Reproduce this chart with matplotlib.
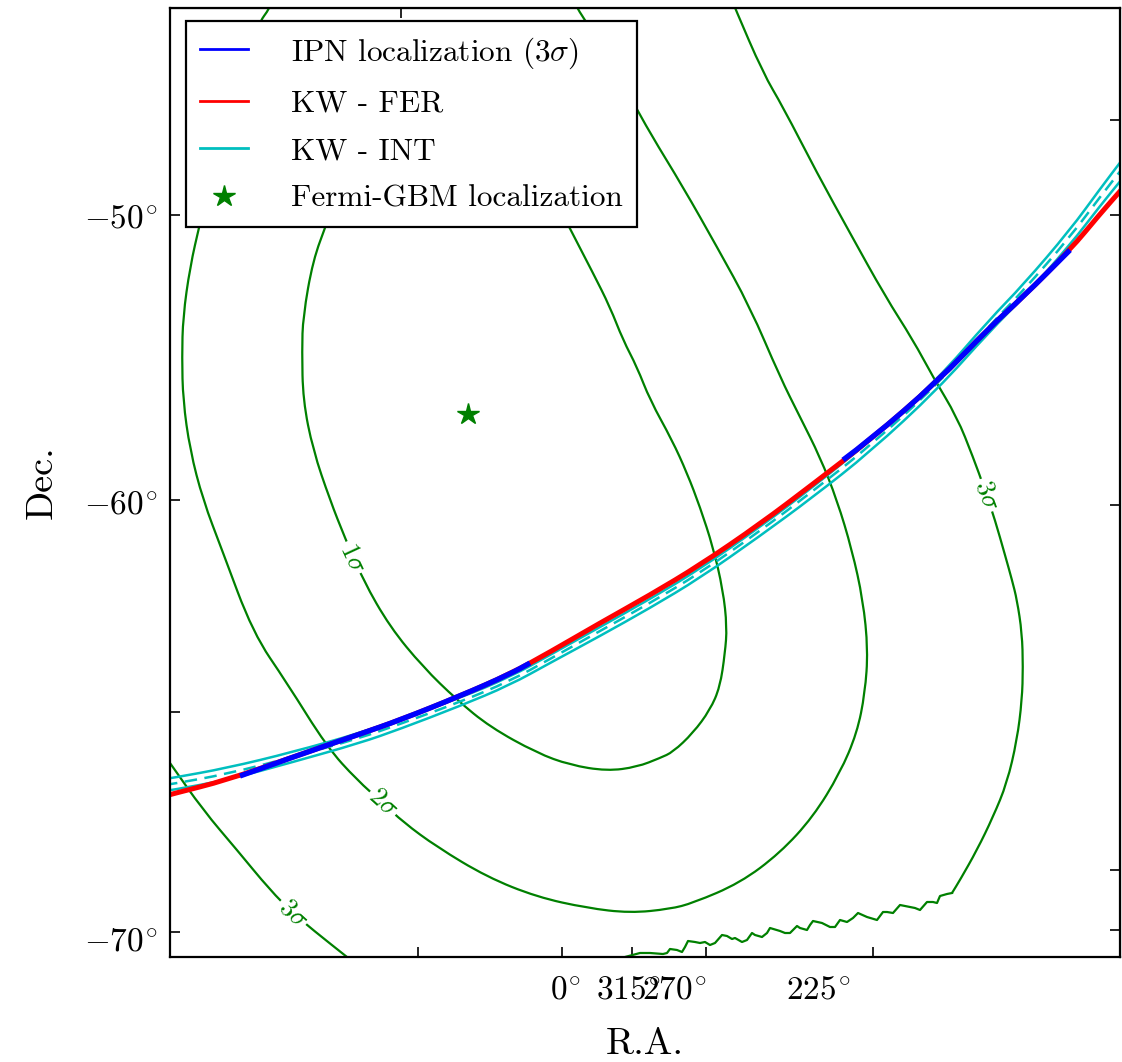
import matplotlib
matplotlib.use('Agg')
import matplotlib.pyplot as plt
from matplotlib.lines import Line2D
from matplotlib.path import Path
from matplotlib.patches import PathPatch

plt.rcParams['font.family'] = 'serif'
plt.rcParams['font.serif'] = ['cmr10']
plt.rcParams['mathtext.fontset'] = 'cm'
plt.rcParams['axes.formatter.use_mathtext'] = True

# data: points (x right, y down) ------------
# Fermi-GBM probability contours
sig1_x = [450, 385, 343, 327, 313, 303, 302, 303, 313, 330, 345, 363, 390, 423, 457, 490,
          537, 570, 607, 637, 660, 673, 693, 710, 720, 725, 727, 723, 713, 700, 687, 672,
          650, 637, 623, 610, 593, 567, 530, 490, 450]
sig1_y = [95, 125, 175, 223, 260, 317, 350, 400, 450, 500, 538, 580, 627, 667, 700, 727,
          753, 765, 771, 767, 758, 752, 733, 710, 687, 653, 627, 590, 547, 507, 473, 440,
          400, 367, 340, 307, 273, 223, 150, 105, 95]

sig2_x = [274, 270, 258, 235, 215, 200, 190, 183, 182, 183, 190, 203, 222, 253, 287, 327,
          357, 383, 403, 437, 487, 537, 587, 630, 670, 693, 740, 780, 813, 840, 857, 865,
          868, 863, 852, 837, 820, 800, 780, 750, 717, 683, 650, 632, 610, 587, 577, 573]
sig2_y = [-2, 8, 24, 90, 160, 223, 267, 317, 357, 400, 450, 500, 550, 633, 683, 747,
          780, 803, 822, 847, 877, 897, 908, 913, 909, 903, 883, 853, 817, 773, 733, 693,
          650, 600, 550, 500, 457, 417, 377, 307, 247, 187, 133, 100, 62, 23, 8, -2]

sig3l_x = [165, 170, 203, 237, 270, 293, 313, 347, 352]
sig3l_y = [756, 763, 810, 850, 890, 913, 930, 957, 961]

# outer right contour; from index 24 on it is the jagged stretch near the pole
sig3r_x = [731, 735, 763, 783, 817, 850, 885, 913, 933, 957, 973, 985, 995, 1005, 1012,
           1017, 1022, 1023, 1022, 1017, 1007, 993, 977, 960, 952,
           947, 940, 937, 933, 927, 920, 915, 900, 893, 887, 883, 877, 867, 858, 853,
           847, 840, 835, 830, 822, 813, 810, 807, 800, 797, 790, 785, 780, 770, 767,
           762, 755, 752, 747, 742, 735, 732, 727, 722, 715, 710, 705, 700, 695, 688,
           685, 682, 677, 670, 667, 663, 650, 640, 625, 618]
sig3r_y = [-2, 8, 73, 107, 173, 233, 296, 340, 377, 417, 457, 490, 520, 555, 580,
           600, 633, 667, 700, 740, 783, 817, 850, 880, 893,
           894, 896, 903, 902, 902, 910, 908, 905, 913, 912, 912, 920, 917, 913, 918,
           922, 920, 927, 927, 923, 921, 925, 930, 928, 926, 933, 933, 931, 928, 933,
           937, 935, 933, 940, 942, 938, 939, 936, 935, 943, 945, 942, 943, 942, 941,
           947, 952, 950, 949, 953, 954, 953, 953, 957, 960]

# contour labels: text, x, y, angle along the contour
clab_text = [r'$1\sigma$', r'$2\sigma$', r'$3\sigma$', r'$3\sigma$']
clab_x = [352, 383, 293, 987]
clab_y = [558, 803, 913, 495]
clab_rot = [-65, -42, -43, -70]

# IPN / KW annuli
arc_x = [165, 172, 227, 293, 360, 400, 460, 510, 550, 600, 650, 700, 760, 813, 870,
         937, 990, 1023, 1070, 1100, 1122]
fer_y = [796, 794, 780, 757, 734, 720, 696, 674, 652, 623, 595, 565, 524, 484, 440,
         382, 327, 297, 250, 214, 189]
int_hi_y = [779, 778, 768, 752, 733, 719, 698, 677, 655, 627, 599, 569, 527, 487, 441,
            380, 319, 285, 230, 189, 160]
int_mid_y = [785, 784, 774, 757, 738, 724, 702, 681, 659, 631, 603, 573, 531, 491, 446,
             385, 325, 291, 237, 197, 169]
int_lo_y = [791, 790, 780, 762, 743, 729, 706, 685, 663, 636, 608, 578, 536, 497, 452,
            390, 331, 298, 245, 206, 179]

ipn1_x = [240, 293, 360, 400, 460, 510, 530]
ipn1_y = [776, 757, 734, 720, 696, 674, 663]
ipn2_x = [843, 870, 937, 990, 1023, 1070]
ipn2_y = [460, 440, 382, 327, 297, 250]

gbm_x = [468]
gbm_y = [414]

# axis ticks
dec_pos = [217, 503, 940]
dec_lab = [r'$-50^{\!\circ}$', r'$-60^{\!\circ}$', r'$-70^{\!\circ}$']
ra_pos = [566, 628, 674, 818]
ra_lab = [r'$0^{\!\circ}$', r'$315^{\!\circ}$', r'$270^{\!\circ}$', r'$225^{\!\circ}$']
tick_bottom = [418, 562, 632, 706, 873]
tick_left = [215, 500, 712, 932]
tick_top = [401]
tick_right = [120, 215, 505, 870, 930]


def smooth_line(ax, xs, ys, **kw):
    # quadratic bezier path using the read points as control points
    pts = list(zip(xs, ys))
    verts = [pts[0]]
    codes = [Path.MOVETO]
    for i in range(1, len(pts) - 1):
        mid = ((pts[i][0] + pts[i + 1][0]) / 2, (pts[i][1] + pts[i + 1][1]) / 2)
        verts += [pts[i], mid]
        codes += [Path.CURVE3, Path.CURVE3]
    verts.append(pts[-1])
    codes.append(Path.LINETO)
    ax.add_patch(PathPatch(Path(verts, codes), fill=False, **kw))


# plot ---------------------------------------------------------------------
fig = plt.figure(figsize=(11.22, 10.62), dpi=100)
ax = fig.add_axes([170/1122, 1 - 957/1062, 950/1122, 949/1062])

green = (0, 0.5, 0)
for cx, cy in [(sig1_x, sig1_y), (sig2_x, sig2_y), (sig3l_x, sig3l_y),
               (sig3r_x[:25], sig3r_y[:25])]:
    smooth_line(ax, cx, cy, edgecolor=green, lw=1.6)
ax.plot(sig3r_x[24:], sig3r_y[24:], color=green, lw=1.6)

for t, x, y, r in zip(clab_text, clab_x, clab_y, clab_rot):
    ax.text(x, y, t, color=green, fontsize=19, rotation=r, ha='center', va='center',
            rotation_mode='anchor',
            bbox=dict(fc='white', ec='none', pad=1.5))

smooth_line(ax, arc_x, int_hi_y, edgecolor='c', lw=1.8)
smooth_line(ax, arc_x, int_lo_y, edgecolor='c', lw=1.8)
smooth_line(ax, arc_x, int_mid_y, edgecolor='c', lw=1.8, linestyle=(0, (5, 3)))
smooth_line(ax, arc_x, fer_y, edgecolor='r', lw=3.6)
smooth_line(ax, ipn1_x, ipn1_y, edgecolor='b', lw=3.8)
smooth_line(ax, ipn2_x, ipn2_y, edgecolor='b', lw=3.8)
ax.plot(gbm_x, gbm_y, marker='*', color=green, ls='', ms=16)

ax.set_xlim(170, 1120)
ax.set_ylim(957, 8)

for s in ax.spines.values():
    s.set_linewidth(1.6)

ax.set_xticks(ra_pos)
ax.set_xticklabels(ra_lab)
ax.set_yticks(dec_pos)
ax.set_yticklabels(dec_lab)
ax.set_xticks(tick_bottom, minor=True)
ax.set_yticks(tick_left, minor=True)
ax.tick_params(which='major', length=0, labelsize=24)
ax.tick_params(axis='x', which='major', pad=14)
ax.tick_params(axis='y', which='major', pad=9)
ax.tick_params(which='minor', direction='in', length=7, width=1.2)

top = ax.secondary_xaxis('top')
top.set_xticks(tick_top)
top.tick_params(direction='in', length=7, width=1.2, labeltop=False)
right = ax.secondary_yaxis('right')
right.set_yticks(tick_right)
right.tick_params(direction='in', length=7, width=1.2, labelright=False)

ax.set_xlabel('R.A.', fontsize=27.5, labelpad=16)
ax.set_ylabel('Dec.', fontsize=27.5, labelpad=18)

handles = [
    Line2D([], [], color='b', lw=2, label=r'IPN localization ($3\sigma$)'),
    Line2D([], [], color='r', lw=2, label='KW - FER'),
    Line2D([], [], color='c', lw=2, label='KW - INT'),
    Line2D([], [], color=green, marker='*', ls='', ms=16, label='Fermi-GBM localization'),
]
leg = ax.legend(handles=handles, loc='upper left', bbox_to_anchor=(0.0168, 0.9863),
                borderaxespad=0, fontsize=22.5, handlelength=1.55, handletextpad=1.35,
                labelspacing=0.62, borderpad=0.45, fancybox=False, framealpha=1,
                numpoints=1)
leg.get_frame().set_edgecolor('black')
leg.get_frame().set_linewidth(1.6)

fig.savefig('out.png', dpi=100)
